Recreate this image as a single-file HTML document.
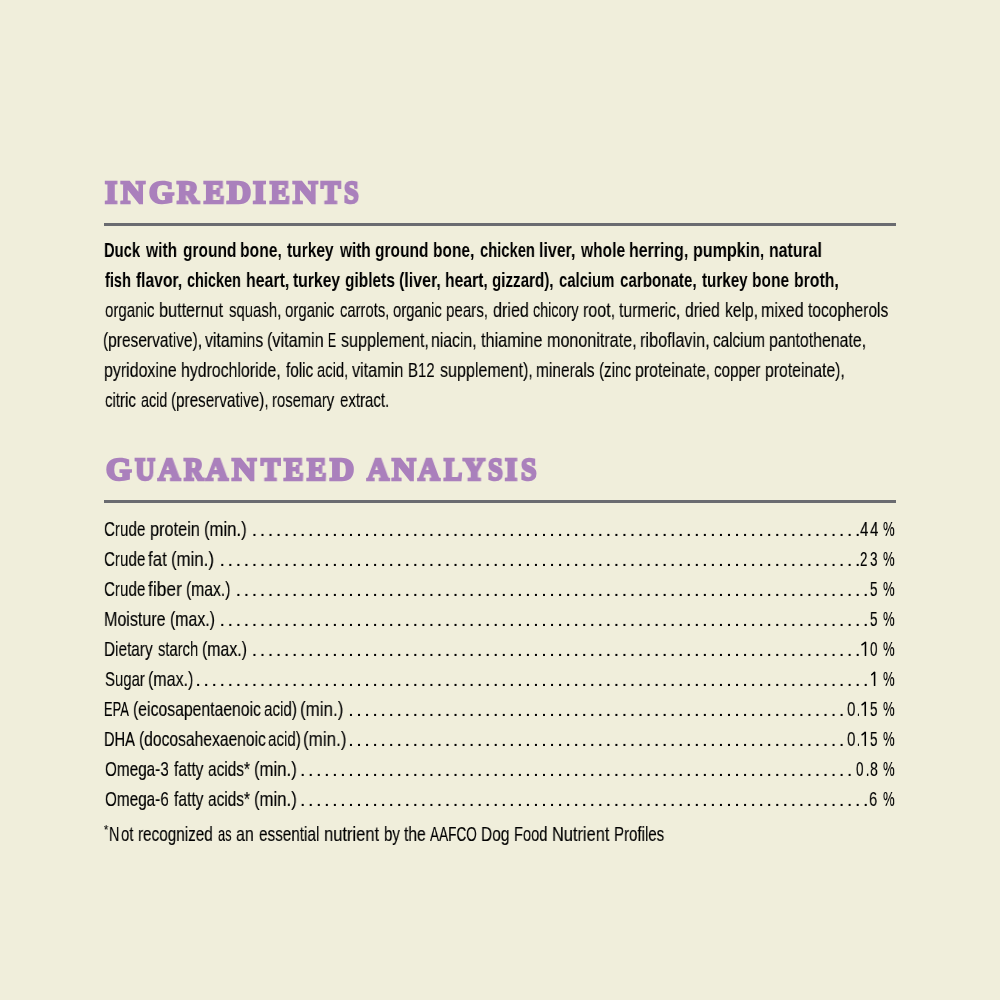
<!DOCTYPE html>
<html><head><meta charset="utf-8">
<style>
html,body{margin:0;padding:0;}
body{width:1000px;height:1000px;background:#F0EEDB;position:relative;overflow:hidden;font-family:"Liberation Sans",sans-serif;color:#000;}
.ln{position:absolute;white-space:nowrap;transform-origin:0 0;will-change:transform;font-family:"Liberation Sans",sans-serif;}
.rg{-webkit-text-stroke:0.15px #000;}
.hd{font-family:"Liberation Serif",serif;color:#AA80BC;-webkit-text-stroke:2.5px #AA80BC;}
.rule{position:absolute;left:104px;width:792px;height:3px;background:#6A6B70;}
.ast{position:absolute;left:104px;top:826px;font-size:11px;line-height:1;}
svg{position:absolute;left:0;top:0;}
</style></head><body>
<div class="rule" style="top:223px"></div>
<div class="rule" style="top:500px"></div>
<div class="ln" style="left:104.08px;top:238.15px;font-size:20.60px;font-weight:700;line-height:1.117em;transform:scaleX(0.7154)">Duck</div>
<div class="ln" style="left:146.26px;top:238.15px;font-size:20.60px;font-weight:700;line-height:1.117em;transform:scaleX(0.7572)">with</div>
<div class="ln" style="left:182.50px;top:238.15px;font-size:20.60px;font-weight:700;line-height:1.117em;transform:scaleX(0.7536)">ground</div>
<div class="ln" style="left:240.24px;top:238.15px;font-size:20.60px;font-weight:700;line-height:1.117em;transform:scaleX(0.7614)">bone,</div>
<div class="ln" style="left:287.00px;top:238.15px;font-size:20.60px;font-weight:700;line-height:1.117em;transform:scaleX(0.7537)">turkey</div>
<div class="ln" style="left:339.75px;top:238.15px;font-size:20.60px;font-weight:700;line-height:1.117em;transform:scaleX(0.7452)">with</div>
<div class="ln" style="left:375.00px;top:238.15px;font-size:20.60px;font-weight:700;line-height:1.117em;transform:scaleX(0.7536)">ground</div>
<div class="ln" style="left:433.25px;top:238.15px;font-size:20.60px;font-weight:700;line-height:1.117em;transform:scaleX(0.7520)">bone,</div>
<div class="ln" style="left:479.50px;top:238.15px;font-size:20.60px;font-weight:700;line-height:1.117em;transform:scaleX(0.7160)">chicken</div>
<div class="ln" style="left:539.23px;top:238.15px;font-size:20.60px;font-weight:700;line-height:1.117em;transform:scaleX(0.7739)">liver,</div>
<div class="ln" style="left:581.26px;top:238.15px;font-size:20.60px;font-weight:700;line-height:1.117em;transform:scaleX(0.7555)">whole</div>
<div class="ln" style="left:629.23px;top:238.15px;font-size:20.60px;font-weight:700;line-height:1.117em;transform:scaleX(0.7739)">herring,</div>
<div class="ln" style="left:693.22px;top:238.15px;font-size:20.60px;font-weight:700;line-height:1.117em;transform:scaleX(0.7795)">pumpkin,</div>
<div class="ln" style="left:769.23px;top:238.15px;font-size:20.60px;font-weight:700;line-height:1.117em;transform:scaleX(0.7694)">natural</div>
<div class="ln" style="left:104.50px;top:268.15px;font-size:20.60px;font-weight:700;line-height:1.117em;transform:scaleX(0.7077)">fish</div>
<div class="ln" style="left:135.50px;top:268.15px;font-size:20.60px;font-weight:700;line-height:1.117em;transform:scaleX(0.7591)">flavor,</div>
<div class="ln" style="left:186.50px;top:268.15px;font-size:20.60px;font-weight:700;line-height:1.117em;transform:scaleX(0.7029)">chicken</div>
<div class="ln" style="left:245.73px;top:268.15px;font-size:20.60px;font-weight:700;line-height:1.117em;transform:scaleX(0.7727)">heart,</div>
<div class="ln" style="left:292.50px;top:268.15px;font-size:20.60px;font-weight:700;line-height:1.117em;transform:scaleX(0.7617)">turkey</div>
<div class="ln" style="left:344.50px;top:268.15px;font-size:20.60px;font-weight:700;line-height:1.117em;transform:scaleX(0.7510)">giblets</div>
<div class="ln" style="left:398.72px;top:268.15px;font-size:20.60px;font-weight:700;line-height:1.117em;transform:scaleX(0.7776)">(liver,</div>
<div class="ln" style="left:444.74px;top:268.15px;font-size:20.60px;font-weight:700;line-height:1.117em;transform:scaleX(0.7635)">heart,</div>
<div class="ln" style="left:492.00px;top:268.15px;font-size:20.60px;font-weight:700;line-height:1.117em;transform:scaleX(0.7367)">gizzard),</div>
<div class="ln" style="left:559.00px;top:268.15px;font-size:20.60px;font-weight:700;line-height:1.117em;transform:scaleX(0.7201)">calcium</div>
<div class="ln" style="left:620.00px;top:268.15px;font-size:20.60px;font-weight:700;line-height:1.117em;transform:scaleX(0.7348)">carbonate,</div>
<div class="ln" style="left:701.50px;top:268.15px;font-size:20.60px;font-weight:700;line-height:1.117em;transform:scaleX(0.7377)">turkey</div>
<div class="ln" style="left:752.25px;top:268.15px;font-size:20.60px;font-weight:700;line-height:1.117em;transform:scaleX(0.7541)">bone</div>
<div class="ln" style="left:794.23px;top:268.15px;font-size:20.60px;font-weight:700;line-height:1.117em;transform:scaleX(0.7684)">broth,</div>
<div class="ln rg" style="left:104.80px;top:298.05px;font-size:20.60px;font-weight:400;line-height:1.117em;transform:scaleX(0.7316)">organic</div>
<div class="ln rg" style="left:159.21px;top:298.05px;font-size:20.60px;font-weight:400;line-height:1.117em;transform:scaleX(0.7882)">butternut</div>
<div class="ln rg" style="left:229.00px;top:298.05px;font-size:20.60px;font-weight:400;line-height:1.117em;transform:scaleX(0.7244)">squash,</div>
<div class="ln rg" style="left:285.00px;top:298.05px;font-size:20.60px;font-weight:400;line-height:1.117em;transform:scaleX(0.7287)">organic</div>
<div class="ln rg" style="left:339.50px;top:298.05px;font-size:20.60px;font-weight:400;line-height:1.117em;transform:scaleX(0.7171)">carrots,</div>
<div class="ln rg" style="left:392.50px;top:298.05px;font-size:20.60px;font-weight:400;line-height:1.117em;transform:scaleX(0.7212)">organic</div>
<div class="ln rg" style="left:446.27px;top:298.05px;font-size:20.60px;font-weight:400;line-height:1.117em;transform:scaleX(0.7337)">pears,</div>
<div class="ln rg" style="left:492.50px;top:298.05px;font-size:20.60px;font-weight:400;line-height:1.117em;transform:scaleX(0.7830)">dried</div>
<div class="ln rg" style="left:533.00px;top:298.05px;font-size:20.60px;font-weight:400;line-height:1.117em;transform:scaleX(0.6977)">chicory</div>
<div class="ln rg" style="left:583.22px;top:298.05px;font-size:20.60px;font-weight:400;line-height:1.117em;transform:scaleX(0.7795)">root,</div>
<div class="ln rg" style="left:619.00px;top:298.05px;font-size:20.60px;font-weight:400;line-height:1.117em;transform:scaleX(0.7656)">turmeric,</div>
<div class="ln rg" style="left:684.50px;top:298.05px;font-size:20.60px;font-weight:400;line-height:1.117em;transform:scaleX(0.7609)">dried</div>
<div class="ln rg" style="left:725.24px;top:298.05px;font-size:20.60px;font-weight:400;line-height:1.117em;transform:scaleX(0.7602)">kelp,</div>
<div class="ln rg" style="left:760.72px;top:298.05px;font-size:20.60px;font-weight:400;line-height:1.117em;transform:scaleX(0.7760)">mixed</div>
<div class="ln rg" style="left:808.00px;top:298.05px;font-size:20.60px;font-weight:400;line-height:1.117em;transform:scaleX(0.7535)">tocopherols</div>
<div class="ln rg" style="left:103.25px;top:328.05px;font-size:20.60px;font-weight:400;line-height:1.117em;transform:scaleX(0.7526)">(preservative),</div>
<div class="ln rg" style="left:205.00px;top:328.05px;font-size:20.60px;font-weight:400;line-height:1.117em;transform:scaleX(0.7710)">vitamins</div>
<div class="ln rg" style="left:266.71px;top:328.05px;font-size:20.60px;font-weight:400;line-height:1.117em;transform:scaleX(0.7857)">(vitamin</div>
<div class="ln rg" style="left:328.42px;top:328.05px;font-size:20.60px;font-weight:400;line-height:1.117em;transform:scaleX(0.5833)">E</div>
<div class="ln rg" style="left:340.50px;top:328.05px;font-size:20.60px;font-weight:400;line-height:1.117em;transform:scaleX(0.7830)">supplement,</div>
<div class="ln rg" style="left:431.23px;top:328.05px;font-size:20.60px;font-weight:400;line-height:1.117em;transform:scaleX(0.7657)">niacin,</div>
<div class="ln rg" style="left:480.50px;top:328.05px;font-size:20.60px;font-weight:400;line-height:1.117em;transform:scaleX(0.7882)">thiamine</div>
<div class="ln rg" style="left:546.72px;top:328.05px;font-size:20.60px;font-weight:400;line-height:1.117em;transform:scaleX(0.7830)">mononitrate,</div>
<div class="ln rg" style="left:639.71px;top:328.05px;font-size:20.60px;font-weight:400;line-height:1.117em;transform:scaleX(0.7903)">riboflavin,</div>
<div class="ln rg" style="left:713.00px;top:328.05px;font-size:20.60px;font-weight:400;line-height:1.117em;transform:scaleX(0.7429)">calcium</div>
<div class="ln rg" style="left:769.23px;top:328.05px;font-size:20.60px;font-weight:400;line-height:1.117em;transform:scaleX(0.7708)">pantothenate,</div>
<div class="ln rg" style="left:104.23px;top:358.05px;font-size:20.60px;font-weight:400;line-height:1.117em;transform:scaleX(0.7737)">pyridoxine</div>
<div class="ln rg" style="left:181.23px;top:358.05px;font-size:20.60px;font-weight:400;line-height:1.117em;transform:scaleX(0.7699)">hydrochloride,</div>
<div class="ln rg" style="left:285.50px;top:358.05px;font-size:20.60px;font-weight:400;line-height:1.117em;transform:scaleX(0.7433)">folic</div>
<div class="ln rg" style="left:317.00px;top:358.05px;font-size:20.60px;font-weight:400;line-height:1.117em;transform:scaleX(0.7181)">acid,</div>
<div class="ln rg" style="left:352.00px;top:358.05px;font-size:20.60px;font-weight:400;line-height:1.117em;transform:scaleX(0.7873)">vitamin</div>
<div class="ln rg" style="left:407.78px;top:358.05px;font-size:20.60px;font-weight:400;line-height:1.117em;transform:scaleX(0.7247)">B12</div>
<div class="ln rg" style="left:440.00px;top:358.05px;font-size:20.60px;font-weight:400;line-height:1.117em;transform:scaleX(0.7799)">supplement),</div>
<div class="ln rg" style="left:536.25px;top:358.05px;font-size:20.60px;font-weight:400;line-height:1.117em;transform:scaleX(0.7514)">minerals</div>
<div class="ln rg" style="left:598.77px;top:358.05px;font-size:20.60px;font-weight:400;line-height:1.117em;transform:scaleX(0.7349)">(zinc</div>
<div class="ln rg" style="left:635.23px;top:358.05px;font-size:20.60px;font-weight:400;line-height:1.117em;transform:scaleX(0.7717)">proteinate,</div>
<div class="ln rg" style="left:714.00px;top:358.05px;font-size:20.60px;font-weight:400;line-height:1.117em;transform:scaleX(0.7368)">copper</div>
<div class="ln rg" style="left:765.23px;top:358.05px;font-size:20.60px;font-weight:400;line-height:1.117em;transform:scaleX(0.7659)">proteinate),</div>
<div class="ln rg" style="left:104.80px;top:388.15px;font-size:20.60px;font-weight:400;line-height:1.117em;transform:scaleX(0.7305)">citric</div>
<div class="ln rg" style="left:140.50px;top:388.15px;font-size:20.60px;font-weight:400;line-height:1.117em;transform:scaleX(0.6966)">acid</div>
<div class="ln rg" style="left:170.76px;top:388.15px;font-size:20.60px;font-weight:400;line-height:1.117em;transform:scaleX(0.7410)">(preservative),</div>
<div class="ln rg" style="left:272.28px;top:388.15px;font-size:20.60px;font-weight:400;line-height:1.117em;transform:scaleX(0.7249)">rosemary</div>
<div class="ln rg" style="left:340.00px;top:388.15px;font-size:20.60px;font-weight:400;line-height:1.117em;transform:scaleX(0.7295)">extract.</div>
<div class="ln rg" style="left:104.06px;top:517.35px;font-size:20.60px;font-weight:400;line-height:1.117em;transform:scaleX(0.7358)">Crude</div>
<div class="ln rg" style="left:150.21px;top:517.35px;font-size:20.60px;font-weight:400;line-height:1.117em;transform:scaleX(0.7917)">protein</div>
<div class="ln rg" style="left:204.19px;top:517.35px;font-size:20.60px;font-weight:400;line-height:1.117em;transform:scaleX(0.8116)">(min.)</div>
<div class="ln rg" style="left:860.40px;top:517.35px;font-size:20.60px;font-weight:400;line-height:1.117em;transform:scaleX(0.7364)">4</div>
<div class="ln rg" style="left:869.90px;top:517.35px;font-size:20.60px;font-weight:400;line-height:1.117em;transform:scaleX(0.7364)">4</div>
<div class="ln rg" style="left:883.20px;top:517.35px;font-size:20.60px;font-weight:400;line-height:1.117em;transform:scaleX(0.6333)">%</div>
<div class="ln rg" style="left:104.06px;top:547.35px;font-size:20.60px;font-weight:400;line-height:1.117em;transform:scaleX(0.7358)">Crude</div>
<div class="ln rg" style="left:147.70px;top:547.35px;font-size:20.60px;font-weight:400;line-height:1.117em;transform:scaleX(0.8199)">fat</div>
<div class="ln rg" style="left:170.88px;top:547.35px;font-size:20.60px;font-weight:400;line-height:1.117em;transform:scaleX(0.8175)">(min.)</div>
<div class="ln rg" style="left:860.25px;top:547.35px;font-size:20.60px;font-weight:400;line-height:1.117em;transform:scaleX(0.6500)">2</div>
<div class="ln rg" style="left:870.10px;top:547.35px;font-size:20.60px;font-weight:400;line-height:1.117em;transform:scaleX(0.6545)">3</div>
<div class="ln rg" style="left:883.20px;top:547.35px;font-size:20.60px;font-weight:400;line-height:1.117em;transform:scaleX(0.6333)">%</div>
<div class="ln rg" style="left:104.06px;top:577.35px;font-size:20.60px;font-weight:400;line-height:1.117em;transform:scaleX(0.7358)">Crude</div>
<div class="ln rg" style="left:147.70px;top:577.35px;font-size:20.60px;font-weight:400;line-height:1.117em;transform:scaleX(0.8457)">fiber</div>
<div class="ln rg" style="left:185.94px;top:577.35px;font-size:20.60px;font-weight:400;line-height:1.117em;transform:scaleX(0.7613)">(max.)</div>
<div class="ln rg" style="left:870.20px;top:577.35px;font-size:20.60px;font-weight:400;line-height:1.117em;transform:scaleX(0.6545)">5</div>
<div class="ln rg" style="left:883.20px;top:577.35px;font-size:20.60px;font-weight:400;line-height:1.117em;transform:scaleX(0.6333)">%</div>
<div class="ln rg" style="left:104.02px;top:607.35px;font-size:20.60px;font-weight:400;line-height:1.117em;transform:scaleX(0.7792)">Moisture</div>
<div class="ln rg" style="left:169.73px;top:607.35px;font-size:20.60px;font-weight:400;line-height:1.117em;transform:scaleX(0.7701)">(max.)</div>
<div class="ln rg" style="left:870.20px;top:607.35px;font-size:20.60px;font-weight:400;line-height:1.117em;transform:scaleX(0.6545)">5</div>
<div class="ln rg" style="left:883.20px;top:607.35px;font-size:20.60px;font-weight:400;line-height:1.117em;transform:scaleX(0.6333)">%</div>
<div class="ln rg" style="left:104.05px;top:637.35px;font-size:20.60px;font-weight:400;line-height:1.117em;transform:scaleX(0.7454)">Dietary</div>
<div class="ln rg" style="left:157.70px;top:637.35px;font-size:20.60px;font-weight:400;line-height:1.117em;transform:scaleX(0.7155)">starch</div>
<div class="ln rg" style="left:201.93px;top:637.35px;font-size:20.60px;font-weight:400;line-height:1.117em;transform:scaleX(0.7701)">(max.)</div>
<div class="ln rg" style="left:869.90px;top:637.35px;font-size:20.60px;font-weight:400;line-height:1.117em;transform:scaleX(0.6545)">0</div>
<div class="ln rg" style="left:883.20px;top:637.35px;font-size:20.60px;font-weight:400;line-height:1.117em;transform:scaleX(0.6333)">%</div>
<div class="ln rg" style="left:104.80px;top:667.35px;font-size:20.60px;font-weight:400;line-height:1.117em;transform:scaleX(0.7242)">Sugar</div>
<div class="ln rg" style="left:147.52px;top:667.35px;font-size:20.60px;font-weight:400;line-height:1.117em;transform:scaleX(0.7772)">(max.)</div>
<div class="ln rg" style="left:883.20px;top:667.35px;font-size:20.60px;font-weight:400;line-height:1.117em;transform:scaleX(0.6333)">%</div>
<div class="ln rg" style="left:104.17px;top:697.35px;font-size:20.60px;font-weight:400;line-height:1.117em;transform:scaleX(0.6266)">EPA</div>
<div class="ln rg" style="left:132.93px;top:697.35px;font-size:20.60px;font-weight:400;line-height:1.117em;transform:scaleX(0.7657)">(eicosapentaenoic</div>
<div class="ln rg" style="left:263.70px;top:697.35px;font-size:20.60px;font-weight:400;line-height:1.117em;transform:scaleX(0.7378)">acid)</div>
<div class="ln rg" style="left:299.67px;top:697.35px;font-size:20.60px;font-weight:400;line-height:1.117em;transform:scaleX(0.8254)">(min.)</div>
<div class="ln rg" style="left:846.80px;top:697.35px;font-size:20.60px;font-weight:400;line-height:1.117em;transform:scaleX(0.7364)">0</div>
<div class="ln rg" style="left:856.77px;top:697.35px;font-size:20.60px;font-weight:400;line-height:1.117em;transform:scaleX(0.5333)">.</div>
<div class="ln rg" style="left:870.20px;top:697.35px;font-size:20.60px;font-weight:400;line-height:1.117em;transform:scaleX(0.6545)">5</div>
<div class="ln rg" style="left:883.20px;top:697.35px;font-size:20.60px;font-weight:400;line-height:1.117em;transform:scaleX(0.6333)">%</div>
<div class="ln rg" style="left:104.09px;top:727.35px;font-size:20.60px;font-weight:400;line-height:1.117em;transform:scaleX(0.7112)">DHA</div>
<div class="ln rg" style="left:138.54px;top:727.35px;font-size:20.60px;font-weight:400;line-height:1.117em;transform:scaleX(0.7591)">(docosahexaenoic</div>
<div class="ln rg" style="left:267.50px;top:727.35px;font-size:20.60px;font-weight:400;line-height:1.117em;transform:scaleX(0.7355)">acid)</div>
<div class="ln rg" style="left:303.37px;top:727.35px;font-size:20.60px;font-weight:400;line-height:1.117em;transform:scaleX(0.8274)">(min.)</div>
<div class="ln rg" style="left:846.80px;top:727.35px;font-size:20.60px;font-weight:400;line-height:1.117em;transform:scaleX(0.7364)">0</div>
<div class="ln rg" style="left:856.77px;top:727.35px;font-size:20.60px;font-weight:400;line-height:1.117em;transform:scaleX(0.5333)">.</div>
<div class="ln rg" style="left:870.20px;top:727.35px;font-size:20.60px;font-weight:400;line-height:1.117em;transform:scaleX(0.6545)">5</div>
<div class="ln rg" style="left:883.20px;top:727.35px;font-size:20.60px;font-weight:400;line-height:1.117em;transform:scaleX(0.6333)">%</div>
<div class="ln rg" style="left:104.80px;top:757.35px;font-size:20.60px;font-weight:400;line-height:1.117em;transform:scaleX(0.7425)">Omega-3</div>
<div class="ln rg" style="left:173.50px;top:757.35px;font-size:20.60px;font-weight:400;line-height:1.117em;transform:scaleX(0.7572)">fatty</div>
<div class="ln rg" style="left:207.50px;top:757.35px;font-size:20.60px;font-weight:400;line-height:1.117em;transform:scaleX(0.7490)">acids*</div>
<div class="ln rg" style="left:253.89px;top:757.35px;font-size:20.60px;font-weight:400;line-height:1.117em;transform:scaleX(0.8136)">(min.)</div>
<div class="ln rg" style="left:856.30px;top:757.35px;font-size:20.60px;font-weight:400;line-height:1.117em;transform:scaleX(0.6545)">0</div>
<div class="ln rg" style="left:865.60px;top:757.35px;font-size:20.60px;font-weight:400;line-height:1.117em;transform:scaleX(0.6000)">.</div>
<div class="ln rg" style="left:870.20px;top:757.35px;font-size:20.60px;font-weight:400;line-height:1.117em;transform:scaleX(0.6818)">8</div>
<div class="ln rg" style="left:883.20px;top:757.35px;font-size:20.60px;font-weight:400;line-height:1.117em;transform:scaleX(0.6333)">%</div>
<div class="ln rg" style="left:104.80px;top:787.35px;font-size:20.60px;font-weight:400;line-height:1.117em;transform:scaleX(0.7425)">Omega-6</div>
<div class="ln rg" style="left:173.50px;top:787.35px;font-size:20.60px;font-weight:400;line-height:1.117em;transform:scaleX(0.7572)">fatty</div>
<div class="ln rg" style="left:207.50px;top:787.35px;font-size:20.60px;font-weight:400;line-height:1.117em;transform:scaleX(0.7490)">acids*</div>
<div class="ln rg" style="left:253.89px;top:787.35px;font-size:20.60px;font-weight:400;line-height:1.117em;transform:scaleX(0.8136)">(min.)</div>
<div class="ln rg" style="left:868.88px;top:787.35px;font-size:20.60px;font-weight:400;line-height:1.117em;transform:scaleX(0.7200)">6</div>
<div class="ln rg" style="left:883.20px;top:787.35px;font-size:20.60px;font-weight:400;line-height:1.117em;transform:scaleX(0.6333)">%</div>
<div class="ln rg" style="left:109.28px;top:823.18px;font-size:19.80px;font-weight:400;line-height:1.117em;transform:scaleX(0.7250)">N</div>
<div class="ln rg" style="left:121.20px;top:823.18px;font-size:19.80px;font-weight:400;line-height:1.117em;transform:scaleX(0.7529)">ot</div>
<div class="ln rg" style="left:138.43px;top:823.18px;font-size:19.80px;font-weight:400;line-height:1.117em;transform:scaleX(0.7724)">recognized</div>
<div class="ln rg" style="left:218.40px;top:823.18px;font-size:19.80px;font-weight:400;line-height:1.117em;transform:scaleX(0.6476)">as</div>
<div class="ln rg" style="left:235.70px;top:823.18px;font-size:19.80px;font-weight:400;line-height:1.117em;transform:scaleX(0.8095)">an</div>
<div class="ln rg" style="left:258.70px;top:823.18px;font-size:19.80px;font-weight:400;line-height:1.117em;transform:scaleX(0.7724)">essential</div>
<div class="ln rg" style="left:323.86px;top:823.18px;font-size:19.80px;font-weight:400;line-height:1.117em;transform:scaleX(0.8353)">nutrient</div>
<div class="ln rg" style="left:384.24px;top:823.18px;font-size:19.80px;font-weight:400;line-height:1.117em;transform:scaleX(0.7599)">by</div>
<div class="ln rg" style="left:404.00px;top:823.18px;font-size:19.80px;font-weight:400;line-height:1.117em;transform:scaleX(0.7892)">the</div>
<div class="ln rg" style="left:430.20px;top:823.18px;font-size:19.80px;font-weight:400;line-height:1.117em;transform:scaleX(0.6863)">AAFCO</div>
<div class="ln rg" style="left:481.22px;top:823.18px;font-size:19.80px;font-weight:400;line-height:1.117em;transform:scaleX(0.7846)">Dog</div>
<div class="ln rg" style="left:514.26px;top:823.18px;font-size:19.80px;font-weight:400;line-height:1.117em;transform:scaleX(0.7427)">Food</div>
<div class="ln rg" style="left:552.17px;top:823.18px;font-size:19.80px;font-weight:400;line-height:1.117em;transform:scaleX(0.8289)">Nutrient</div>
<div class="ln rg" style="left:614.44px;top:823.18px;font-size:19.80px;font-weight:400;line-height:1.117em;transform:scaleX(0.7607)">Profiles</div>
<div class="ln rg" style="left:104.10px;top:823.94px;font-size:12.00px;font-weight:400;line-height:1.117em;transform:scaleX(0.8800)">*</div>
<div class="ln hd" style="left:105.15px;top:174.64px;font-size:31.77px;font-weight:700;line-height:1.107em;transform:scaleX(0.9852)">I</div>
<div class="ln hd" style="left:120.90px;top:174.64px;font-size:31.77px;font-weight:700;line-height:1.107em;transform:scaleX(1.0431)">N</div>
<div class="ln hd" style="left:148.55px;top:174.64px;font-size:31.77px;font-weight:700;line-height:1.107em;transform:scaleX(1.0157)">G</div>
<div class="ln hd" style="left:177.49px;top:174.64px;font-size:31.77px;font-weight:700;line-height:1.107em;transform:scaleX(0.9509)">R</div>
<div class="ln hd" style="left:204.11px;top:174.64px;font-size:31.77px;font-weight:700;line-height:1.107em;transform:scaleX(0.9644)">E</div>
<div class="ln hd" style="left:227.31px;top:174.64px;font-size:31.77px;font-weight:700;line-height:1.107em;transform:scaleX(1.0490)">D</div>
<div class="ln hd" style="left:253.36px;top:174.64px;font-size:31.77px;font-weight:700;line-height:1.107em;transform:scaleX(1.0370)">I</div>
<div class="ln hd" style="left:270.37px;top:174.64px;font-size:31.77px;font-weight:700;line-height:1.107em;transform:scaleX(0.9333)">E</div>
<div class="ln hd" style="left:292.94px;top:174.64px;font-size:31.77px;font-weight:700;line-height:1.107em;transform:scaleX(1.0706)">N</div>
<div class="ln hd" style="left:321.45px;top:174.64px;font-size:31.77px;font-weight:700;line-height:1.107em;transform:scaleX(0.9234)">T</div>
<div class="ln hd" style="left:344.31px;top:174.64px;font-size:31.77px;font-weight:700;line-height:1.107em;transform:scaleX(0.8324)">S</div>
<div class="ln hd" style="left:106.26px;top:452.14px;font-size:31.77px;font-weight:700;line-height:1.107em;transform:scaleX(1.0353)">G</div>
<div class="ln hd" style="left:135.29px;top:452.14px;font-size:31.77px;font-weight:700;line-height:1.107em;transform:scaleX(0.8706)">U</div>
<div class="ln hd" style="left:157.82px;top:452.14px;font-size:31.77px;font-weight:700;line-height:1.107em;transform:scaleX(0.9765)">A</div>
<div class="ln hd" style="left:183.87px;top:452.14px;font-size:31.77px;font-weight:700;line-height:1.107em;transform:scaleX(0.8566)">R</div>
<div class="ln hd" style="left:206.41px;top:452.14px;font-size:31.77px;font-weight:700;line-height:1.107em;transform:scaleX(0.9647)">A</div>
<div class="ln hd" style="left:231.72px;top:452.14px;font-size:31.77px;font-weight:700;line-height:1.107em;transform:scaleX(1.0588)">N</div>
<div class="ln hd" style="left:260.63px;top:452.14px;font-size:31.77px;font-weight:700;line-height:1.107em;transform:scaleX(0.9064)">T</div>
<div class="ln hd" style="left:284.36px;top:452.14px;font-size:31.77px;font-weight:700;line-height:1.107em;transform:scaleX(0.9244)">E</div>
<div class="ln hd" style="left:307.14px;top:452.14px;font-size:31.77px;font-weight:700;line-height:1.107em;transform:scaleX(0.9156)">E</div>
<div class="ln hd" style="left:330.32px;top:452.14px;font-size:31.77px;font-weight:700;line-height:1.107em;transform:scaleX(1.0531)">D</div>
<div class="ln hd" style="left:367.41px;top:452.14px;font-size:31.77px;font-weight:700;line-height:1.107em;transform:scaleX(0.9647)">A</div>
<div class="ln hd" style="left:392.09px;top:452.14px;font-size:31.77px;font-weight:700;line-height:1.107em;transform:scaleX(1.0353)">N</div>
<div class="ln hd" style="left:418.39px;top:452.14px;font-size:31.77px;font-weight:700;line-height:1.107em;transform:scaleX(0.9490)">A</div>
<div class="ln hd" style="left:444.27px;top:452.14px;font-size:31.77px;font-weight:700;line-height:1.107em;transform:scaleX(0.8533)">L</div>
<div class="ln hd" style="left:463.01px;top:452.14px;font-size:31.77px;font-weight:700;line-height:1.107em;transform:scaleX(0.9647)">Y</div>
<div class="ln hd" style="left:488.41px;top:452.14px;font-size:31.77px;font-weight:700;line-height:1.107em;transform:scaleX(0.8432)">S</div>
<div class="ln hd" style="left:505.24px;top:452.14px;font-size:31.77px;font-weight:700;line-height:1.107em;transform:scaleX(0.9778)">I</div>
<div class="ln hd" style="left:520.82px;top:452.14px;font-size:31.77px;font-weight:700;line-height:1.107em;transform:scaleX(0.8757)">S</div>
<svg width="1000" height="1000" fill="#000"><rect x="253.45" y="533.9" width="2" height="2.1"/><rect x="261.50" y="533.9" width="2" height="2.1"/><rect x="269.54" y="533.9" width="2" height="2.1"/><rect x="277.58" y="533.9" width="2" height="2.1"/><rect x="285.62" y="533.9" width="2" height="2.1"/><rect x="293.67" y="533.9" width="2" height="2.1"/><rect x="301.71" y="533.9" width="2" height="2.1"/><rect x="309.75" y="533.9" width="2" height="2.1"/><rect x="317.80" y="533.9" width="2" height="2.1"/><rect x="325.84" y="533.9" width="2" height="2.1"/><rect x="333.88" y="533.9" width="2" height="2.1"/><rect x="341.93" y="533.9" width="2" height="2.1"/><rect x="349.97" y="533.9" width="2" height="2.1"/><rect x="358.01" y="533.9" width="2" height="2.1"/><rect x="366.05" y="533.9" width="2" height="2.1"/><rect x="374.10" y="533.9" width="2" height="2.1"/><rect x="382.14" y="533.9" width="2" height="2.1"/><rect x="390.18" y="533.9" width="2" height="2.1"/><rect x="398.23" y="533.9" width="2" height="2.1"/><rect x="406.27" y="533.9" width="2" height="2.1"/><rect x="414.31" y="533.9" width="2" height="2.1"/><rect x="422.36" y="533.9" width="2" height="2.1"/><rect x="430.40" y="533.9" width="2" height="2.1"/><rect x="438.44" y="533.9" width="2" height="2.1"/><rect x="446.48" y="533.9" width="2" height="2.1"/><rect x="454.53" y="533.9" width="2" height="2.1"/><rect x="462.57" y="533.9" width="2" height="2.1"/><rect x="470.61" y="533.9" width="2" height="2.1"/><rect x="478.66" y="533.9" width="2" height="2.1"/><rect x="486.70" y="533.9" width="2" height="2.1"/><rect x="494.74" y="533.9" width="2" height="2.1"/><rect x="502.79" y="533.9" width="2" height="2.1"/><rect x="510.83" y="533.9" width="2" height="2.1"/><rect x="518.87" y="533.9" width="2" height="2.1"/><rect x="526.91" y="533.9" width="2" height="2.1"/><rect x="534.96" y="533.9" width="2" height="2.1"/><rect x="543.00" y="533.9" width="2" height="2.1"/><rect x="551.04" y="533.9" width="2" height="2.1"/><rect x="559.09" y="533.9" width="2" height="2.1"/><rect x="567.13" y="533.9" width="2" height="2.1"/><rect x="575.17" y="533.9" width="2" height="2.1"/><rect x="583.22" y="533.9" width="2" height="2.1"/><rect x="591.26" y="533.9" width="2" height="2.1"/><rect x="599.30" y="533.9" width="2" height="2.1"/><rect x="607.34" y="533.9" width="2" height="2.1"/><rect x="615.39" y="533.9" width="2" height="2.1"/><rect x="623.43" y="533.9" width="2" height="2.1"/><rect x="631.47" y="533.9" width="2" height="2.1"/><rect x="639.52" y="533.9" width="2" height="2.1"/><rect x="647.56" y="533.9" width="2" height="2.1"/><rect x="655.60" y="533.9" width="2" height="2.1"/><rect x="663.65" y="533.9" width="2" height="2.1"/><rect x="671.69" y="533.9" width="2" height="2.1"/><rect x="679.73" y="533.9" width="2" height="2.1"/><rect x="687.77" y="533.9" width="2" height="2.1"/><rect x="695.82" y="533.9" width="2" height="2.1"/><rect x="703.86" y="533.9" width="2" height="2.1"/><rect x="711.90" y="533.9" width="2" height="2.1"/><rect x="719.95" y="533.9" width="2" height="2.1"/><rect x="727.99" y="533.9" width="2" height="2.1"/><rect x="736.03" y="533.9" width="2" height="2.1"/><rect x="744.08" y="533.9" width="2" height="2.1"/><rect x="752.12" y="533.9" width="2" height="2.1"/><rect x="760.16" y="533.9" width="2" height="2.1"/><rect x="768.20" y="533.9" width="2" height="2.1"/><rect x="776.25" y="533.9" width="2" height="2.1"/><rect x="784.29" y="533.9" width="2" height="2.1"/><rect x="792.33" y="533.9" width="2" height="2.1"/><rect x="800.38" y="533.9" width="2" height="2.1"/><rect x="808.42" y="533.9" width="2" height="2.1"/><rect x="816.46" y="533.9" width="2" height="2.1"/><rect x="824.51" y="533.9" width="2" height="2.1"/><rect x="832.55" y="533.9" width="2" height="2.1"/><rect x="840.59" y="533.9" width="2" height="2.1"/><rect x="848.63" y="533.9" width="2" height="2.1"/><rect x="856.68" y="533.9" width="2" height="2.1"/><rect x="221.28" y="563.9" width="2" height="2.1"/><rect x="229.32" y="563.9" width="2" height="2.1"/><rect x="237.37" y="563.9" width="2" height="2.1"/><rect x="245.41" y="563.9" width="2" height="2.1"/><rect x="253.45" y="563.9" width="2" height="2.1"/><rect x="261.50" y="563.9" width="2" height="2.1"/><rect x="269.54" y="563.9" width="2" height="2.1"/><rect x="277.58" y="563.9" width="2" height="2.1"/><rect x="285.62" y="563.9" width="2" height="2.1"/><rect x="293.67" y="563.9" width="2" height="2.1"/><rect x="301.71" y="563.9" width="2" height="2.1"/><rect x="309.75" y="563.9" width="2" height="2.1"/><rect x="317.80" y="563.9" width="2" height="2.1"/><rect x="325.84" y="563.9" width="2" height="2.1"/><rect x="333.88" y="563.9" width="2" height="2.1"/><rect x="341.93" y="563.9" width="2" height="2.1"/><rect x="349.97" y="563.9" width="2" height="2.1"/><rect x="358.01" y="563.9" width="2" height="2.1"/><rect x="366.05" y="563.9" width="2" height="2.1"/><rect x="374.10" y="563.9" width="2" height="2.1"/><rect x="382.14" y="563.9" width="2" height="2.1"/><rect x="390.18" y="563.9" width="2" height="2.1"/><rect x="398.23" y="563.9" width="2" height="2.1"/><rect x="406.27" y="563.9" width="2" height="2.1"/><rect x="414.31" y="563.9" width="2" height="2.1"/><rect x="422.36" y="563.9" width="2" height="2.1"/><rect x="430.40" y="563.9" width="2" height="2.1"/><rect x="438.44" y="563.9" width="2" height="2.1"/><rect x="446.48" y="563.9" width="2" height="2.1"/><rect x="454.53" y="563.9" width="2" height="2.1"/><rect x="462.57" y="563.9" width="2" height="2.1"/><rect x="470.61" y="563.9" width="2" height="2.1"/><rect x="478.66" y="563.9" width="2" height="2.1"/><rect x="486.70" y="563.9" width="2" height="2.1"/><rect x="494.74" y="563.9" width="2" height="2.1"/><rect x="502.79" y="563.9" width="2" height="2.1"/><rect x="510.83" y="563.9" width="2" height="2.1"/><rect x="518.87" y="563.9" width="2" height="2.1"/><rect x="526.91" y="563.9" width="2" height="2.1"/><rect x="534.96" y="563.9" width="2" height="2.1"/><rect x="543.00" y="563.9" width="2" height="2.1"/><rect x="551.04" y="563.9" width="2" height="2.1"/><rect x="559.09" y="563.9" width="2" height="2.1"/><rect x="567.13" y="563.9" width="2" height="2.1"/><rect x="575.17" y="563.9" width="2" height="2.1"/><rect x="583.22" y="563.9" width="2" height="2.1"/><rect x="591.26" y="563.9" width="2" height="2.1"/><rect x="599.30" y="563.9" width="2" height="2.1"/><rect x="607.34" y="563.9" width="2" height="2.1"/><rect x="615.39" y="563.9" width="2" height="2.1"/><rect x="623.43" y="563.9" width="2" height="2.1"/><rect x="631.47" y="563.9" width="2" height="2.1"/><rect x="639.52" y="563.9" width="2" height="2.1"/><rect x="647.56" y="563.9" width="2" height="2.1"/><rect x="655.60" y="563.9" width="2" height="2.1"/><rect x="663.65" y="563.9" width="2" height="2.1"/><rect x="671.69" y="563.9" width="2" height="2.1"/><rect x="679.73" y="563.9" width="2" height="2.1"/><rect x="687.77" y="563.9" width="2" height="2.1"/><rect x="695.82" y="563.9" width="2" height="2.1"/><rect x="703.86" y="563.9" width="2" height="2.1"/><rect x="711.90" y="563.9" width="2" height="2.1"/><rect x="719.95" y="563.9" width="2" height="2.1"/><rect x="727.99" y="563.9" width="2" height="2.1"/><rect x="736.03" y="563.9" width="2" height="2.1"/><rect x="744.08" y="563.9" width="2" height="2.1"/><rect x="752.12" y="563.9" width="2" height="2.1"/><rect x="760.16" y="563.9" width="2" height="2.1"/><rect x="768.20" y="563.9" width="2" height="2.1"/><rect x="776.25" y="563.9" width="2" height="2.1"/><rect x="784.29" y="563.9" width="2" height="2.1"/><rect x="792.33" y="563.9" width="2" height="2.1"/><rect x="800.38" y="563.9" width="2" height="2.1"/><rect x="808.42" y="563.9" width="2" height="2.1"/><rect x="816.46" y="563.9" width="2" height="2.1"/><rect x="824.51" y="563.9" width="2" height="2.1"/><rect x="832.55" y="563.9" width="2" height="2.1"/><rect x="840.59" y="563.9" width="2" height="2.1"/><rect x="848.63" y="563.9" width="2" height="2.1"/><rect x="856.68" y="563.9" width="2" height="2.1"/><rect x="237.37" y="593.9" width="2" height="2.1"/><rect x="245.41" y="593.9" width="2" height="2.1"/><rect x="253.45" y="593.9" width="2" height="2.1"/><rect x="261.50" y="593.9" width="2" height="2.1"/><rect x="269.54" y="593.9" width="2" height="2.1"/><rect x="277.58" y="593.9" width="2" height="2.1"/><rect x="285.62" y="593.9" width="2" height="2.1"/><rect x="293.67" y="593.9" width="2" height="2.1"/><rect x="301.71" y="593.9" width="2" height="2.1"/><rect x="309.75" y="593.9" width="2" height="2.1"/><rect x="317.80" y="593.9" width="2" height="2.1"/><rect x="325.84" y="593.9" width="2" height="2.1"/><rect x="333.88" y="593.9" width="2" height="2.1"/><rect x="341.93" y="593.9" width="2" height="2.1"/><rect x="349.97" y="593.9" width="2" height="2.1"/><rect x="358.01" y="593.9" width="2" height="2.1"/><rect x="366.05" y="593.9" width="2" height="2.1"/><rect x="374.10" y="593.9" width="2" height="2.1"/><rect x="382.14" y="593.9" width="2" height="2.1"/><rect x="390.18" y="593.9" width="2" height="2.1"/><rect x="398.23" y="593.9" width="2" height="2.1"/><rect x="406.27" y="593.9" width="2" height="2.1"/><rect x="414.31" y="593.9" width="2" height="2.1"/><rect x="422.36" y="593.9" width="2" height="2.1"/><rect x="430.40" y="593.9" width="2" height="2.1"/><rect x="438.44" y="593.9" width="2" height="2.1"/><rect x="446.48" y="593.9" width="2" height="2.1"/><rect x="454.53" y="593.9" width="2" height="2.1"/><rect x="462.57" y="593.9" width="2" height="2.1"/><rect x="470.61" y="593.9" width="2" height="2.1"/><rect x="478.66" y="593.9" width="2" height="2.1"/><rect x="486.70" y="593.9" width="2" height="2.1"/><rect x="494.74" y="593.9" width="2" height="2.1"/><rect x="502.79" y="593.9" width="2" height="2.1"/><rect x="510.83" y="593.9" width="2" height="2.1"/><rect x="518.87" y="593.9" width="2" height="2.1"/><rect x="526.91" y="593.9" width="2" height="2.1"/><rect x="534.96" y="593.9" width="2" height="2.1"/><rect x="543.00" y="593.9" width="2" height="2.1"/><rect x="551.04" y="593.9" width="2" height="2.1"/><rect x="559.09" y="593.9" width="2" height="2.1"/><rect x="567.13" y="593.9" width="2" height="2.1"/><rect x="575.17" y="593.9" width="2" height="2.1"/><rect x="583.22" y="593.9" width="2" height="2.1"/><rect x="591.26" y="593.9" width="2" height="2.1"/><rect x="599.30" y="593.9" width="2" height="2.1"/><rect x="607.34" y="593.9" width="2" height="2.1"/><rect x="615.39" y="593.9" width="2" height="2.1"/><rect x="623.43" y="593.9" width="2" height="2.1"/><rect x="631.47" y="593.9" width="2" height="2.1"/><rect x="639.52" y="593.9" width="2" height="2.1"/><rect x="647.56" y="593.9" width="2" height="2.1"/><rect x="655.60" y="593.9" width="2" height="2.1"/><rect x="663.65" y="593.9" width="2" height="2.1"/><rect x="671.69" y="593.9" width="2" height="2.1"/><rect x="679.73" y="593.9" width="2" height="2.1"/><rect x="687.77" y="593.9" width="2" height="2.1"/><rect x="695.82" y="593.9" width="2" height="2.1"/><rect x="703.86" y="593.9" width="2" height="2.1"/><rect x="711.90" y="593.9" width="2" height="2.1"/><rect x="719.95" y="593.9" width="2" height="2.1"/><rect x="727.99" y="593.9" width="2" height="2.1"/><rect x="736.03" y="593.9" width="2" height="2.1"/><rect x="744.08" y="593.9" width="2" height="2.1"/><rect x="752.12" y="593.9" width="2" height="2.1"/><rect x="760.16" y="593.9" width="2" height="2.1"/><rect x="768.20" y="593.9" width="2" height="2.1"/><rect x="776.25" y="593.9" width="2" height="2.1"/><rect x="784.29" y="593.9" width="2" height="2.1"/><rect x="792.33" y="593.9" width="2" height="2.1"/><rect x="800.38" y="593.9" width="2" height="2.1"/><rect x="808.42" y="593.9" width="2" height="2.1"/><rect x="816.46" y="593.9" width="2" height="2.1"/><rect x="824.51" y="593.9" width="2" height="2.1"/><rect x="832.55" y="593.9" width="2" height="2.1"/><rect x="840.59" y="593.9" width="2" height="2.1"/><rect x="848.63" y="593.9" width="2" height="2.1"/><rect x="856.68" y="593.9" width="2" height="2.1"/><rect x="864.72" y="593.9" width="2" height="2.1"/><rect x="221.28" y="623.9" width="2" height="2.1"/><rect x="229.32" y="623.9" width="2" height="2.1"/><rect x="237.37" y="623.9" width="2" height="2.1"/><rect x="245.41" y="623.9" width="2" height="2.1"/><rect x="253.45" y="623.9" width="2" height="2.1"/><rect x="261.50" y="623.9" width="2" height="2.1"/><rect x="269.54" y="623.9" width="2" height="2.1"/><rect x="277.58" y="623.9" width="2" height="2.1"/><rect x="285.62" y="623.9" width="2" height="2.1"/><rect x="293.67" y="623.9" width="2" height="2.1"/><rect x="301.71" y="623.9" width="2" height="2.1"/><rect x="309.75" y="623.9" width="2" height="2.1"/><rect x="317.80" y="623.9" width="2" height="2.1"/><rect x="325.84" y="623.9" width="2" height="2.1"/><rect x="333.88" y="623.9" width="2" height="2.1"/><rect x="341.93" y="623.9" width="2" height="2.1"/><rect x="349.97" y="623.9" width="2" height="2.1"/><rect x="358.01" y="623.9" width="2" height="2.1"/><rect x="366.05" y="623.9" width="2" height="2.1"/><rect x="374.10" y="623.9" width="2" height="2.1"/><rect x="382.14" y="623.9" width="2" height="2.1"/><rect x="390.18" y="623.9" width="2" height="2.1"/><rect x="398.23" y="623.9" width="2" height="2.1"/><rect x="406.27" y="623.9" width="2" height="2.1"/><rect x="414.31" y="623.9" width="2" height="2.1"/><rect x="422.36" y="623.9" width="2" height="2.1"/><rect x="430.40" y="623.9" width="2" height="2.1"/><rect x="438.44" y="623.9" width="2" height="2.1"/><rect x="446.48" y="623.9" width="2" height="2.1"/><rect x="454.53" y="623.9" width="2" height="2.1"/><rect x="462.57" y="623.9" width="2" height="2.1"/><rect x="470.61" y="623.9" width="2" height="2.1"/><rect x="478.66" y="623.9" width="2" height="2.1"/><rect x="486.70" y="623.9" width="2" height="2.1"/><rect x="494.74" y="623.9" width="2" height="2.1"/><rect x="502.79" y="623.9" width="2" height="2.1"/><rect x="510.83" y="623.9" width="2" height="2.1"/><rect x="518.87" y="623.9" width="2" height="2.1"/><rect x="526.91" y="623.9" width="2" height="2.1"/><rect x="534.96" y="623.9" width="2" height="2.1"/><rect x="543.00" y="623.9" width="2" height="2.1"/><rect x="551.04" y="623.9" width="2" height="2.1"/><rect x="559.09" y="623.9" width="2" height="2.1"/><rect x="567.13" y="623.9" width="2" height="2.1"/><rect x="575.17" y="623.9" width="2" height="2.1"/><rect x="583.22" y="623.9" width="2" height="2.1"/><rect x="591.26" y="623.9" width="2" height="2.1"/><rect x="599.30" y="623.9" width="2" height="2.1"/><rect x="607.34" y="623.9" width="2" height="2.1"/><rect x="615.39" y="623.9" width="2" height="2.1"/><rect x="623.43" y="623.9" width="2" height="2.1"/><rect x="631.47" y="623.9" width="2" height="2.1"/><rect x="639.52" y="623.9" width="2" height="2.1"/><rect x="647.56" y="623.9" width="2" height="2.1"/><rect x="655.60" y="623.9" width="2" height="2.1"/><rect x="663.65" y="623.9" width="2" height="2.1"/><rect x="671.69" y="623.9" width="2" height="2.1"/><rect x="679.73" y="623.9" width="2" height="2.1"/><rect x="687.77" y="623.9" width="2" height="2.1"/><rect x="695.82" y="623.9" width="2" height="2.1"/><rect x="703.86" y="623.9" width="2" height="2.1"/><rect x="711.90" y="623.9" width="2" height="2.1"/><rect x="719.95" y="623.9" width="2" height="2.1"/><rect x="727.99" y="623.9" width="2" height="2.1"/><rect x="736.03" y="623.9" width="2" height="2.1"/><rect x="744.08" y="623.9" width="2" height="2.1"/><rect x="752.12" y="623.9" width="2" height="2.1"/><rect x="760.16" y="623.9" width="2" height="2.1"/><rect x="768.20" y="623.9" width="2" height="2.1"/><rect x="776.25" y="623.9" width="2" height="2.1"/><rect x="784.29" y="623.9" width="2" height="2.1"/><rect x="792.33" y="623.9" width="2" height="2.1"/><rect x="800.38" y="623.9" width="2" height="2.1"/><rect x="808.42" y="623.9" width="2" height="2.1"/><rect x="816.46" y="623.9" width="2" height="2.1"/><rect x="824.51" y="623.9" width="2" height="2.1"/><rect x="832.55" y="623.9" width="2" height="2.1"/><rect x="840.59" y="623.9" width="2" height="2.1"/><rect x="848.63" y="623.9" width="2" height="2.1"/><rect x="856.68" y="623.9" width="2" height="2.1"/><rect x="864.72" y="623.9" width="2" height="2.1"/><rect x="253.45" y="653.9" width="2" height="2.1"/><rect x="261.50" y="653.9" width="2" height="2.1"/><rect x="269.54" y="653.9" width="2" height="2.1"/><rect x="277.58" y="653.9" width="2" height="2.1"/><rect x="285.62" y="653.9" width="2" height="2.1"/><rect x="293.67" y="653.9" width="2" height="2.1"/><rect x="301.71" y="653.9" width="2" height="2.1"/><rect x="309.75" y="653.9" width="2" height="2.1"/><rect x="317.80" y="653.9" width="2" height="2.1"/><rect x="325.84" y="653.9" width="2" height="2.1"/><rect x="333.88" y="653.9" width="2" height="2.1"/><rect x="341.93" y="653.9" width="2" height="2.1"/><rect x="349.97" y="653.9" width="2" height="2.1"/><rect x="358.01" y="653.9" width="2" height="2.1"/><rect x="366.05" y="653.9" width="2" height="2.1"/><rect x="374.10" y="653.9" width="2" height="2.1"/><rect x="382.14" y="653.9" width="2" height="2.1"/><rect x="390.18" y="653.9" width="2" height="2.1"/><rect x="398.23" y="653.9" width="2" height="2.1"/><rect x="406.27" y="653.9" width="2" height="2.1"/><rect x="414.31" y="653.9" width="2" height="2.1"/><rect x="422.36" y="653.9" width="2" height="2.1"/><rect x="430.40" y="653.9" width="2" height="2.1"/><rect x="438.44" y="653.9" width="2" height="2.1"/><rect x="446.48" y="653.9" width="2" height="2.1"/><rect x="454.53" y="653.9" width="2" height="2.1"/><rect x="462.57" y="653.9" width="2" height="2.1"/><rect x="470.61" y="653.9" width="2" height="2.1"/><rect x="478.66" y="653.9" width="2" height="2.1"/><rect x="486.70" y="653.9" width="2" height="2.1"/><rect x="494.74" y="653.9" width="2" height="2.1"/><rect x="502.79" y="653.9" width="2" height="2.1"/><rect x="510.83" y="653.9" width="2" height="2.1"/><rect x="518.87" y="653.9" width="2" height="2.1"/><rect x="526.91" y="653.9" width="2" height="2.1"/><rect x="534.96" y="653.9" width="2" height="2.1"/><rect x="543.00" y="653.9" width="2" height="2.1"/><rect x="551.04" y="653.9" width="2" height="2.1"/><rect x="559.09" y="653.9" width="2" height="2.1"/><rect x="567.13" y="653.9" width="2" height="2.1"/><rect x="575.17" y="653.9" width="2" height="2.1"/><rect x="583.22" y="653.9" width="2" height="2.1"/><rect x="591.26" y="653.9" width="2" height="2.1"/><rect x="599.30" y="653.9" width="2" height="2.1"/><rect x="607.34" y="653.9" width="2" height="2.1"/><rect x="615.39" y="653.9" width="2" height="2.1"/><rect x="623.43" y="653.9" width="2" height="2.1"/><rect x="631.47" y="653.9" width="2" height="2.1"/><rect x="639.52" y="653.9" width="2" height="2.1"/><rect x="647.56" y="653.9" width="2" height="2.1"/><rect x="655.60" y="653.9" width="2" height="2.1"/><rect x="663.65" y="653.9" width="2" height="2.1"/><rect x="671.69" y="653.9" width="2" height="2.1"/><rect x="679.73" y="653.9" width="2" height="2.1"/><rect x="687.77" y="653.9" width="2" height="2.1"/><rect x="695.82" y="653.9" width="2" height="2.1"/><rect x="703.86" y="653.9" width="2" height="2.1"/><rect x="711.90" y="653.9" width="2" height="2.1"/><rect x="719.95" y="653.9" width="2" height="2.1"/><rect x="727.99" y="653.9" width="2" height="2.1"/><rect x="736.03" y="653.9" width="2" height="2.1"/><rect x="744.08" y="653.9" width="2" height="2.1"/><rect x="752.12" y="653.9" width="2" height="2.1"/><rect x="760.16" y="653.9" width="2" height="2.1"/><rect x="768.20" y="653.9" width="2" height="2.1"/><rect x="776.25" y="653.9" width="2" height="2.1"/><rect x="784.29" y="653.9" width="2" height="2.1"/><rect x="792.33" y="653.9" width="2" height="2.1"/><rect x="800.38" y="653.9" width="2" height="2.1"/><rect x="808.42" y="653.9" width="2" height="2.1"/><rect x="816.46" y="653.9" width="2" height="2.1"/><rect x="824.51" y="653.9" width="2" height="2.1"/><rect x="832.55" y="653.9" width="2" height="2.1"/><rect x="840.59" y="653.9" width="2" height="2.1"/><rect x="848.63" y="653.9" width="2" height="2.1"/><rect x="856.68" y="653.9" width="2" height="2.1"/><rect x="197.15" y="683.9" width="2" height="2.1"/><rect x="205.19" y="683.9" width="2" height="2.1"/><rect x="213.24" y="683.9" width="2" height="2.1"/><rect x="221.28" y="683.9" width="2" height="2.1"/><rect x="229.32" y="683.9" width="2" height="2.1"/><rect x="237.37" y="683.9" width="2" height="2.1"/><rect x="245.41" y="683.9" width="2" height="2.1"/><rect x="253.45" y="683.9" width="2" height="2.1"/><rect x="261.50" y="683.9" width="2" height="2.1"/><rect x="269.54" y="683.9" width="2" height="2.1"/><rect x="277.58" y="683.9" width="2" height="2.1"/><rect x="285.62" y="683.9" width="2" height="2.1"/><rect x="293.67" y="683.9" width="2" height="2.1"/><rect x="301.71" y="683.9" width="2" height="2.1"/><rect x="309.75" y="683.9" width="2" height="2.1"/><rect x="317.80" y="683.9" width="2" height="2.1"/><rect x="325.84" y="683.9" width="2" height="2.1"/><rect x="333.88" y="683.9" width="2" height="2.1"/><rect x="341.93" y="683.9" width="2" height="2.1"/><rect x="349.97" y="683.9" width="2" height="2.1"/><rect x="358.01" y="683.9" width="2" height="2.1"/><rect x="366.05" y="683.9" width="2" height="2.1"/><rect x="374.10" y="683.9" width="2" height="2.1"/><rect x="382.14" y="683.9" width="2" height="2.1"/><rect x="390.18" y="683.9" width="2" height="2.1"/><rect x="398.23" y="683.9" width="2" height="2.1"/><rect x="406.27" y="683.9" width="2" height="2.1"/><rect x="414.31" y="683.9" width="2" height="2.1"/><rect x="422.36" y="683.9" width="2" height="2.1"/><rect x="430.40" y="683.9" width="2" height="2.1"/><rect x="438.44" y="683.9" width="2" height="2.1"/><rect x="446.48" y="683.9" width="2" height="2.1"/><rect x="454.53" y="683.9" width="2" height="2.1"/><rect x="462.57" y="683.9" width="2" height="2.1"/><rect x="470.61" y="683.9" width="2" height="2.1"/><rect x="478.66" y="683.9" width="2" height="2.1"/><rect x="486.70" y="683.9" width="2" height="2.1"/><rect x="494.74" y="683.9" width="2" height="2.1"/><rect x="502.79" y="683.9" width="2" height="2.1"/><rect x="510.83" y="683.9" width="2" height="2.1"/><rect x="518.87" y="683.9" width="2" height="2.1"/><rect x="526.91" y="683.9" width="2" height="2.1"/><rect x="534.96" y="683.9" width="2" height="2.1"/><rect x="543.00" y="683.9" width="2" height="2.1"/><rect x="551.04" y="683.9" width="2" height="2.1"/><rect x="559.09" y="683.9" width="2" height="2.1"/><rect x="567.13" y="683.9" width="2" height="2.1"/><rect x="575.17" y="683.9" width="2" height="2.1"/><rect x="583.22" y="683.9" width="2" height="2.1"/><rect x="591.26" y="683.9" width="2" height="2.1"/><rect x="599.30" y="683.9" width="2" height="2.1"/><rect x="607.34" y="683.9" width="2" height="2.1"/><rect x="615.39" y="683.9" width="2" height="2.1"/><rect x="623.43" y="683.9" width="2" height="2.1"/><rect x="631.47" y="683.9" width="2" height="2.1"/><rect x="639.52" y="683.9" width="2" height="2.1"/><rect x="647.56" y="683.9" width="2" height="2.1"/><rect x="655.60" y="683.9" width="2" height="2.1"/><rect x="663.65" y="683.9" width="2" height="2.1"/><rect x="671.69" y="683.9" width="2" height="2.1"/><rect x="679.73" y="683.9" width="2" height="2.1"/><rect x="687.77" y="683.9" width="2" height="2.1"/><rect x="695.82" y="683.9" width="2" height="2.1"/><rect x="703.86" y="683.9" width="2" height="2.1"/><rect x="711.90" y="683.9" width="2" height="2.1"/><rect x="719.95" y="683.9" width="2" height="2.1"/><rect x="727.99" y="683.9" width="2" height="2.1"/><rect x="736.03" y="683.9" width="2" height="2.1"/><rect x="744.08" y="683.9" width="2" height="2.1"/><rect x="752.12" y="683.9" width="2" height="2.1"/><rect x="760.16" y="683.9" width="2" height="2.1"/><rect x="768.20" y="683.9" width="2" height="2.1"/><rect x="776.25" y="683.9" width="2" height="2.1"/><rect x="784.29" y="683.9" width="2" height="2.1"/><rect x="792.33" y="683.9" width="2" height="2.1"/><rect x="800.38" y="683.9" width="2" height="2.1"/><rect x="808.42" y="683.9" width="2" height="2.1"/><rect x="816.46" y="683.9" width="2" height="2.1"/><rect x="824.51" y="683.9" width="2" height="2.1"/><rect x="832.55" y="683.9" width="2" height="2.1"/><rect x="840.59" y="683.9" width="2" height="2.1"/><rect x="848.63" y="683.9" width="2" height="2.1"/><rect x="856.68" y="683.9" width="2" height="2.1"/><rect x="864.72" y="683.9" width="2" height="2.1"/><rect x="349.97" y="713.9" width="2" height="2.1"/><rect x="358.01" y="713.9" width="2" height="2.1"/><rect x="366.05" y="713.9" width="2" height="2.1"/><rect x="374.10" y="713.9" width="2" height="2.1"/><rect x="382.14" y="713.9" width="2" height="2.1"/><rect x="390.18" y="713.9" width="2" height="2.1"/><rect x="398.23" y="713.9" width="2" height="2.1"/><rect x="406.27" y="713.9" width="2" height="2.1"/><rect x="414.31" y="713.9" width="2" height="2.1"/><rect x="422.36" y="713.9" width="2" height="2.1"/><rect x="430.40" y="713.9" width="2" height="2.1"/><rect x="438.44" y="713.9" width="2" height="2.1"/><rect x="446.48" y="713.9" width="2" height="2.1"/><rect x="454.53" y="713.9" width="2" height="2.1"/><rect x="462.57" y="713.9" width="2" height="2.1"/><rect x="470.61" y="713.9" width="2" height="2.1"/><rect x="478.66" y="713.9" width="2" height="2.1"/><rect x="486.70" y="713.9" width="2" height="2.1"/><rect x="494.74" y="713.9" width="2" height="2.1"/><rect x="502.79" y="713.9" width="2" height="2.1"/><rect x="510.83" y="713.9" width="2" height="2.1"/><rect x="518.87" y="713.9" width="2" height="2.1"/><rect x="526.91" y="713.9" width="2" height="2.1"/><rect x="534.96" y="713.9" width="2" height="2.1"/><rect x="543.00" y="713.9" width="2" height="2.1"/><rect x="551.04" y="713.9" width="2" height="2.1"/><rect x="559.09" y="713.9" width="2" height="2.1"/><rect x="567.13" y="713.9" width="2" height="2.1"/><rect x="575.17" y="713.9" width="2" height="2.1"/><rect x="583.22" y="713.9" width="2" height="2.1"/><rect x="591.26" y="713.9" width="2" height="2.1"/><rect x="599.30" y="713.9" width="2" height="2.1"/><rect x="607.34" y="713.9" width="2" height="2.1"/><rect x="615.39" y="713.9" width="2" height="2.1"/><rect x="623.43" y="713.9" width="2" height="2.1"/><rect x="631.47" y="713.9" width="2" height="2.1"/><rect x="639.52" y="713.9" width="2" height="2.1"/><rect x="647.56" y="713.9" width="2" height="2.1"/><rect x="655.60" y="713.9" width="2" height="2.1"/><rect x="663.65" y="713.9" width="2" height="2.1"/><rect x="671.69" y="713.9" width="2" height="2.1"/><rect x="679.73" y="713.9" width="2" height="2.1"/><rect x="687.77" y="713.9" width="2" height="2.1"/><rect x="695.82" y="713.9" width="2" height="2.1"/><rect x="703.86" y="713.9" width="2" height="2.1"/><rect x="711.90" y="713.9" width="2" height="2.1"/><rect x="719.95" y="713.9" width="2" height="2.1"/><rect x="727.99" y="713.9" width="2" height="2.1"/><rect x="736.03" y="713.9" width="2" height="2.1"/><rect x="744.08" y="713.9" width="2" height="2.1"/><rect x="752.12" y="713.9" width="2" height="2.1"/><rect x="760.16" y="713.9" width="2" height="2.1"/><rect x="768.20" y="713.9" width="2" height="2.1"/><rect x="776.25" y="713.9" width="2" height="2.1"/><rect x="784.29" y="713.9" width="2" height="2.1"/><rect x="792.33" y="713.9" width="2" height="2.1"/><rect x="800.38" y="713.9" width="2" height="2.1"/><rect x="808.42" y="713.9" width="2" height="2.1"/><rect x="816.46" y="713.9" width="2" height="2.1"/><rect x="824.51" y="713.9" width="2" height="2.1"/><rect x="832.55" y="713.9" width="2" height="2.1"/><rect x="840.59" y="713.9" width="2" height="2.1"/><rect x="349.97" y="743.9" width="2" height="2.1"/><rect x="358.01" y="743.9" width="2" height="2.1"/><rect x="366.05" y="743.9" width="2" height="2.1"/><rect x="374.10" y="743.9" width="2" height="2.1"/><rect x="382.14" y="743.9" width="2" height="2.1"/><rect x="390.18" y="743.9" width="2" height="2.1"/><rect x="398.23" y="743.9" width="2" height="2.1"/><rect x="406.27" y="743.9" width="2" height="2.1"/><rect x="414.31" y="743.9" width="2" height="2.1"/><rect x="422.36" y="743.9" width="2" height="2.1"/><rect x="430.40" y="743.9" width="2" height="2.1"/><rect x="438.44" y="743.9" width="2" height="2.1"/><rect x="446.48" y="743.9" width="2" height="2.1"/><rect x="454.53" y="743.9" width="2" height="2.1"/><rect x="462.57" y="743.9" width="2" height="2.1"/><rect x="470.61" y="743.9" width="2" height="2.1"/><rect x="478.66" y="743.9" width="2" height="2.1"/><rect x="486.70" y="743.9" width="2" height="2.1"/><rect x="494.74" y="743.9" width="2" height="2.1"/><rect x="502.79" y="743.9" width="2" height="2.1"/><rect x="510.83" y="743.9" width="2" height="2.1"/><rect x="518.87" y="743.9" width="2" height="2.1"/><rect x="526.91" y="743.9" width="2" height="2.1"/><rect x="534.96" y="743.9" width="2" height="2.1"/><rect x="543.00" y="743.9" width="2" height="2.1"/><rect x="551.04" y="743.9" width="2" height="2.1"/><rect x="559.09" y="743.9" width="2" height="2.1"/><rect x="567.13" y="743.9" width="2" height="2.1"/><rect x="575.17" y="743.9" width="2" height="2.1"/><rect x="583.22" y="743.9" width="2" height="2.1"/><rect x="591.26" y="743.9" width="2" height="2.1"/><rect x="599.30" y="743.9" width="2" height="2.1"/><rect x="607.34" y="743.9" width="2" height="2.1"/><rect x="615.39" y="743.9" width="2" height="2.1"/><rect x="623.43" y="743.9" width="2" height="2.1"/><rect x="631.47" y="743.9" width="2" height="2.1"/><rect x="639.52" y="743.9" width="2" height="2.1"/><rect x="647.56" y="743.9" width="2" height="2.1"/><rect x="655.60" y="743.9" width="2" height="2.1"/><rect x="663.65" y="743.9" width="2" height="2.1"/><rect x="671.69" y="743.9" width="2" height="2.1"/><rect x="679.73" y="743.9" width="2" height="2.1"/><rect x="687.77" y="743.9" width="2" height="2.1"/><rect x="695.82" y="743.9" width="2" height="2.1"/><rect x="703.86" y="743.9" width="2" height="2.1"/><rect x="711.90" y="743.9" width="2" height="2.1"/><rect x="719.95" y="743.9" width="2" height="2.1"/><rect x="727.99" y="743.9" width="2" height="2.1"/><rect x="736.03" y="743.9" width="2" height="2.1"/><rect x="744.08" y="743.9" width="2" height="2.1"/><rect x="752.12" y="743.9" width="2" height="2.1"/><rect x="760.16" y="743.9" width="2" height="2.1"/><rect x="768.20" y="743.9" width="2" height="2.1"/><rect x="776.25" y="743.9" width="2" height="2.1"/><rect x="784.29" y="743.9" width="2" height="2.1"/><rect x="792.33" y="743.9" width="2" height="2.1"/><rect x="800.38" y="743.9" width="2" height="2.1"/><rect x="808.42" y="743.9" width="2" height="2.1"/><rect x="816.46" y="743.9" width="2" height="2.1"/><rect x="824.51" y="743.9" width="2" height="2.1"/><rect x="832.55" y="743.9" width="2" height="2.1"/><rect x="840.59" y="743.9" width="2" height="2.1"/><rect x="301.71" y="773.9" width="2" height="2.1"/><rect x="309.75" y="773.9" width="2" height="2.1"/><rect x="317.80" y="773.9" width="2" height="2.1"/><rect x="325.84" y="773.9" width="2" height="2.1"/><rect x="333.88" y="773.9" width="2" height="2.1"/><rect x="341.93" y="773.9" width="2" height="2.1"/><rect x="349.97" y="773.9" width="2" height="2.1"/><rect x="358.01" y="773.9" width="2" height="2.1"/><rect x="366.05" y="773.9" width="2" height="2.1"/><rect x="374.10" y="773.9" width="2" height="2.1"/><rect x="382.14" y="773.9" width="2" height="2.1"/><rect x="390.18" y="773.9" width="2" height="2.1"/><rect x="398.23" y="773.9" width="2" height="2.1"/><rect x="406.27" y="773.9" width="2" height="2.1"/><rect x="414.31" y="773.9" width="2" height="2.1"/><rect x="422.36" y="773.9" width="2" height="2.1"/><rect x="430.40" y="773.9" width="2" height="2.1"/><rect x="438.44" y="773.9" width="2" height="2.1"/><rect x="446.48" y="773.9" width="2" height="2.1"/><rect x="454.53" y="773.9" width="2" height="2.1"/><rect x="462.57" y="773.9" width="2" height="2.1"/><rect x="470.61" y="773.9" width="2" height="2.1"/><rect x="478.66" y="773.9" width="2" height="2.1"/><rect x="486.70" y="773.9" width="2" height="2.1"/><rect x="494.74" y="773.9" width="2" height="2.1"/><rect x="502.79" y="773.9" width="2" height="2.1"/><rect x="510.83" y="773.9" width="2" height="2.1"/><rect x="518.87" y="773.9" width="2" height="2.1"/><rect x="526.91" y="773.9" width="2" height="2.1"/><rect x="534.96" y="773.9" width="2" height="2.1"/><rect x="543.00" y="773.9" width="2" height="2.1"/><rect x="551.04" y="773.9" width="2" height="2.1"/><rect x="559.09" y="773.9" width="2" height="2.1"/><rect x="567.13" y="773.9" width="2" height="2.1"/><rect x="575.17" y="773.9" width="2" height="2.1"/><rect x="583.22" y="773.9" width="2" height="2.1"/><rect x="591.26" y="773.9" width="2" height="2.1"/><rect x="599.30" y="773.9" width="2" height="2.1"/><rect x="607.34" y="773.9" width="2" height="2.1"/><rect x="615.39" y="773.9" width="2" height="2.1"/><rect x="623.43" y="773.9" width="2" height="2.1"/><rect x="631.47" y="773.9" width="2" height="2.1"/><rect x="639.52" y="773.9" width="2" height="2.1"/><rect x="647.56" y="773.9" width="2" height="2.1"/><rect x="655.60" y="773.9" width="2" height="2.1"/><rect x="663.65" y="773.9" width="2" height="2.1"/><rect x="671.69" y="773.9" width="2" height="2.1"/><rect x="679.73" y="773.9" width="2" height="2.1"/><rect x="687.77" y="773.9" width="2" height="2.1"/><rect x="695.82" y="773.9" width="2" height="2.1"/><rect x="703.86" y="773.9" width="2" height="2.1"/><rect x="711.90" y="773.9" width="2" height="2.1"/><rect x="719.95" y="773.9" width="2" height="2.1"/><rect x="727.99" y="773.9" width="2" height="2.1"/><rect x="736.03" y="773.9" width="2" height="2.1"/><rect x="744.08" y="773.9" width="2" height="2.1"/><rect x="752.12" y="773.9" width="2" height="2.1"/><rect x="760.16" y="773.9" width="2" height="2.1"/><rect x="768.20" y="773.9" width="2" height="2.1"/><rect x="776.25" y="773.9" width="2" height="2.1"/><rect x="784.29" y="773.9" width="2" height="2.1"/><rect x="792.33" y="773.9" width="2" height="2.1"/><rect x="800.38" y="773.9" width="2" height="2.1"/><rect x="808.42" y="773.9" width="2" height="2.1"/><rect x="816.46" y="773.9" width="2" height="2.1"/><rect x="824.51" y="773.9" width="2" height="2.1"/><rect x="832.55" y="773.9" width="2" height="2.1"/><rect x="840.59" y="773.9" width="2" height="2.1"/><rect x="848.63" y="773.9" width="2" height="2.1"/><rect x="301.71" y="803.9" width="2" height="2.1"/><rect x="309.75" y="803.9" width="2" height="2.1"/><rect x="317.80" y="803.9" width="2" height="2.1"/><rect x="325.84" y="803.9" width="2" height="2.1"/><rect x="333.88" y="803.9" width="2" height="2.1"/><rect x="341.93" y="803.9" width="2" height="2.1"/><rect x="349.97" y="803.9" width="2" height="2.1"/><rect x="358.01" y="803.9" width="2" height="2.1"/><rect x="366.05" y="803.9" width="2" height="2.1"/><rect x="374.10" y="803.9" width="2" height="2.1"/><rect x="382.14" y="803.9" width="2" height="2.1"/><rect x="390.18" y="803.9" width="2" height="2.1"/><rect x="398.23" y="803.9" width="2" height="2.1"/><rect x="406.27" y="803.9" width="2" height="2.1"/><rect x="414.31" y="803.9" width="2" height="2.1"/><rect x="422.36" y="803.9" width="2" height="2.1"/><rect x="430.40" y="803.9" width="2" height="2.1"/><rect x="438.44" y="803.9" width="2" height="2.1"/><rect x="446.48" y="803.9" width="2" height="2.1"/><rect x="454.53" y="803.9" width="2" height="2.1"/><rect x="462.57" y="803.9" width="2" height="2.1"/><rect x="470.61" y="803.9" width="2" height="2.1"/><rect x="478.66" y="803.9" width="2" height="2.1"/><rect x="486.70" y="803.9" width="2" height="2.1"/><rect x="494.74" y="803.9" width="2" height="2.1"/><rect x="502.79" y="803.9" width="2" height="2.1"/><rect x="510.83" y="803.9" width="2" height="2.1"/><rect x="518.87" y="803.9" width="2" height="2.1"/><rect x="526.91" y="803.9" width="2" height="2.1"/><rect x="534.96" y="803.9" width="2" height="2.1"/><rect x="543.00" y="803.9" width="2" height="2.1"/><rect x="551.04" y="803.9" width="2" height="2.1"/><rect x="559.09" y="803.9" width="2" height="2.1"/><rect x="567.13" y="803.9" width="2" height="2.1"/><rect x="575.17" y="803.9" width="2" height="2.1"/><rect x="583.22" y="803.9" width="2" height="2.1"/><rect x="591.26" y="803.9" width="2" height="2.1"/><rect x="599.30" y="803.9" width="2" height="2.1"/><rect x="607.34" y="803.9" width="2" height="2.1"/><rect x="615.39" y="803.9" width="2" height="2.1"/><rect x="623.43" y="803.9" width="2" height="2.1"/><rect x="631.47" y="803.9" width="2" height="2.1"/><rect x="639.52" y="803.9" width="2" height="2.1"/><rect x="647.56" y="803.9" width="2" height="2.1"/><rect x="655.60" y="803.9" width="2" height="2.1"/><rect x="663.65" y="803.9" width="2" height="2.1"/><rect x="671.69" y="803.9" width="2" height="2.1"/><rect x="679.73" y="803.9" width="2" height="2.1"/><rect x="687.77" y="803.9" width="2" height="2.1"/><rect x="695.82" y="803.9" width="2" height="2.1"/><rect x="703.86" y="803.9" width="2" height="2.1"/><rect x="711.90" y="803.9" width="2" height="2.1"/><rect x="719.95" y="803.9" width="2" height="2.1"/><rect x="727.99" y="803.9" width="2" height="2.1"/><rect x="736.03" y="803.9" width="2" height="2.1"/><rect x="744.08" y="803.9" width="2" height="2.1"/><rect x="752.12" y="803.9" width="2" height="2.1"/><rect x="760.16" y="803.9" width="2" height="2.1"/><rect x="768.20" y="803.9" width="2" height="2.1"/><rect x="776.25" y="803.9" width="2" height="2.1"/><rect x="784.29" y="803.9" width="2" height="2.1"/><rect x="792.33" y="803.9" width="2" height="2.1"/><rect x="800.38" y="803.9" width="2" height="2.1"/><rect x="808.42" y="803.9" width="2" height="2.1"/><rect x="816.46" y="803.9" width="2" height="2.1"/><rect x="824.51" y="803.9" width="2" height="2.1"/><rect x="832.55" y="803.9" width="2" height="2.1"/><rect x="840.59" y="803.9" width="2" height="2.1"/><rect x="848.63" y="803.9" width="2" height="2.1"/><rect x="856.68" y="803.9" width="2" height="2.1"/><rect x="864.72" y="803.9" width="2" height="2.1"/><rect x="864.70" y="641.90" width="1.55" height="14.10"/><path d="M865.30 642.40 L861.90 644.80" stroke="#000" stroke-width="1.5" stroke-linecap="round" fill="none"/><rect x="873.80" y="671.90" width="1.55" height="14.10"/><path d="M874.40 672.40 L871.70 674.80" stroke="#000" stroke-width="1.5" stroke-linecap="round" fill="none"/><rect x="864.50" y="701.90" width="1.55" height="14.10"/><path d="M865.10 702.40 L862.00 704.80" stroke="#000" stroke-width="1.5" stroke-linecap="round" fill="none"/><rect x="864.50" y="731.90" width="1.55" height="14.10"/><path d="M865.10 732.40 L862.00 734.80" stroke="#000" stroke-width="1.5" stroke-linecap="round" fill="none"/></svg>
</body></html>
